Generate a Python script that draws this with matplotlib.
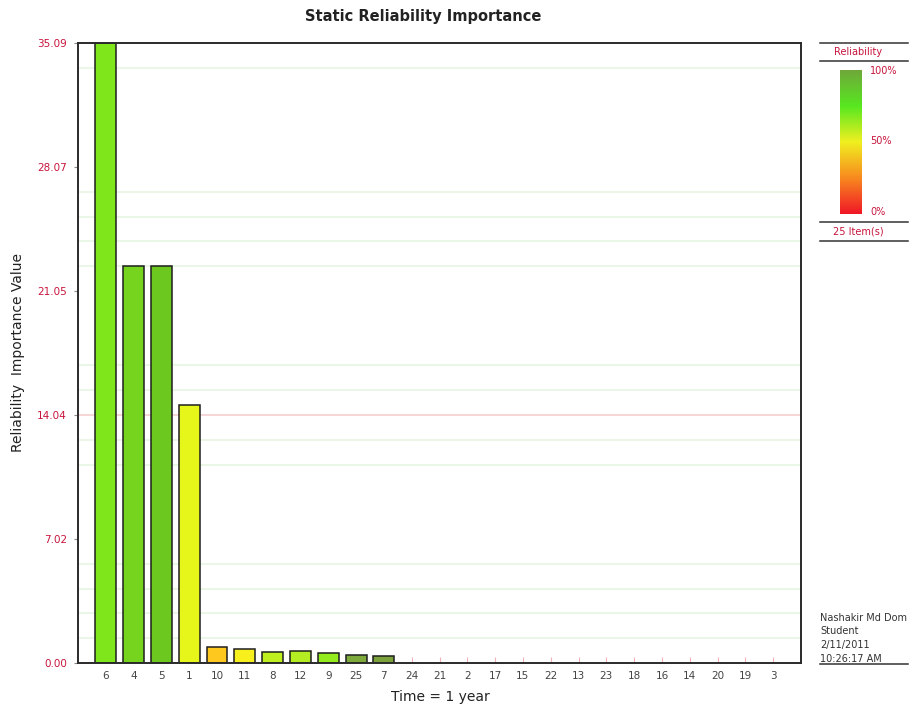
import numpy as np
import matplotlib.pyplot as plt
from matplotlib.colors import LinearSegmentedColormap

# items sorted by importance, with the value and bar colour
items = ["6", "4", "5", "1", "10", "11", "8", "12", "9", "25", "7", "24", "21",
         "2", "17", "15", "22", "13", "23", "18", "16", "14", "20", "19", "3"]
values = [35.09, 22.47, 22.47, 14.6, 0.93, 0.78, 0.65, 0.67, 0.56, 0.48, 0.41,
          0.07, 0, 0, 0, 0, 0, 0, 0, 0, 0, 0, 0, 0, 0]
bar_colors = ["#80e61c", "#76d41e", "#6cc81e", "#e6f51a", "#ffc81e", "#f8f01c",
              "#beef1e", "#b4ee22", "#94ec1e", "#7eaa3c", "#7ca23c", "#6cc81e"] + ["#6cc81e"] * 13

y_max = 35.09
y_ticks = [0.00, 7.02, 14.04, 21.05, 28.07, 35.09]
# steps (of y_max / 25) where the light grid lines show up
grid_steps = [1, 2, 3, 4, 8, 9, 11, 12, 16, 17, 18, 19, 24]
red_step = 10

legend_stops = ["#f01828", "#f88a1e", "#f0f020", "#58e820", "#6fa83a"]
author_lines = ["Nashakir Md Dom", "Student", "2/11/2011", "10:26:17 AM"]

red = "#c8143c"

fig = plt.figure(figsize=(9.14, 7.13), dpi=100)
ax = fig.add_axes([78 / 914, 1 - 663 / 713, (801 - 78) / 914, (663 - 43) / 713])

x = np.arange(len(items))
step = y_max / 25
for s in grid_steps:
    ax.axhline(s * step, color="#e4f4df", lw=1.1, zorder=0)
ax.axhline(red_step * step, color="#f2cccc", lw=1.1, zorder=0)

# bars too small to see get no outline
edge_w = [1.1 if v > 0.2 else 0 for v in values]
ax.bar(x, values, width=0.75, color=bar_colors, edgecolor="#1e1e1e", linewidth=edge_w, zorder=2)

ax.set_xlim(-1, 25)
ax.set_ylim(0, y_max)
ax.set_xticks(x)
ax.set_xticklabels(items, fontsize=7.5, color="#444444")
ax.tick_params(axis="x", direction="in", length=4, color="#f0b0b8", pad=6)
ax.set_yticks(y_ticks)
ax.set_yticklabels([f"{v:.2f}" for v in y_ticks], fontsize=7.5, color=red)
ax.tick_params(axis="y", length=3, color="#888888", pad=5)
for sp in ax.spines.values():
    sp.set_color("#2a2a2a")
    sp.set_linewidth(1.4)


def fy(py):
    return 1 - py / 713


def fx(px):
    return px / 914


fig.text(fx(440), fy(697), "Time = 1 year", ha="center", va="center", fontsize=10, color="#222222")
fig.text(fx(18), fy(352), "Reliability  Importance Value", ha="center", va="center",
         rotation=90, fontsize=10, color="#222222")
fig.text(fx(423), fy(16), "Static Reliability Importance", ha="center", va="center",
         fontsize=10.5, fontweight="bold", color="#222222")

# colour legend on the right
for py in [43, 61, 222, 241]:
    fig.add_artist(plt.Line2D([fx(820), fx(908)], [fy(py), fy(py)], color="#333333", lw=1.1))
fig.text(fx(858), fy(52), "Reliability", ha="center", va="center", fontsize=7, color=red)
fig.text(fx(858), fy(231), "25 Item(s)", ha="center", va="center", fontsize=7, color=red)

cax = fig.add_axes([fx(840), fy(214), fx(862) - fx(840), fy(70) - fy(214)])
cmap = LinearSegmentedColormap.from_list("rel", legend_stops)
cax.imshow(np.linspace(0, 1, 200).reshape(-1, 1), cmap=cmap, aspect="auto", origin="lower")
cax.set_axis_off()
for py, lab in [(71, "100%"), (141, "50%"), (212, "0%")]:
    fig.text(fx(870), fy(py), lab, ha="left", va="center", fontsize=7, color=red)

for i, line in enumerate(author_lines):
    fig.text(fx(820), fy(618 + i * 13.5), line, ha="left", va="center", fontsize=7, color="#333333")
fig.add_artist(plt.Line2D([fx(820), fx(908)], [fy(664), fy(664)], color="#333333", lw=1.1))

fig.savefig("out.png", dpi=100)
